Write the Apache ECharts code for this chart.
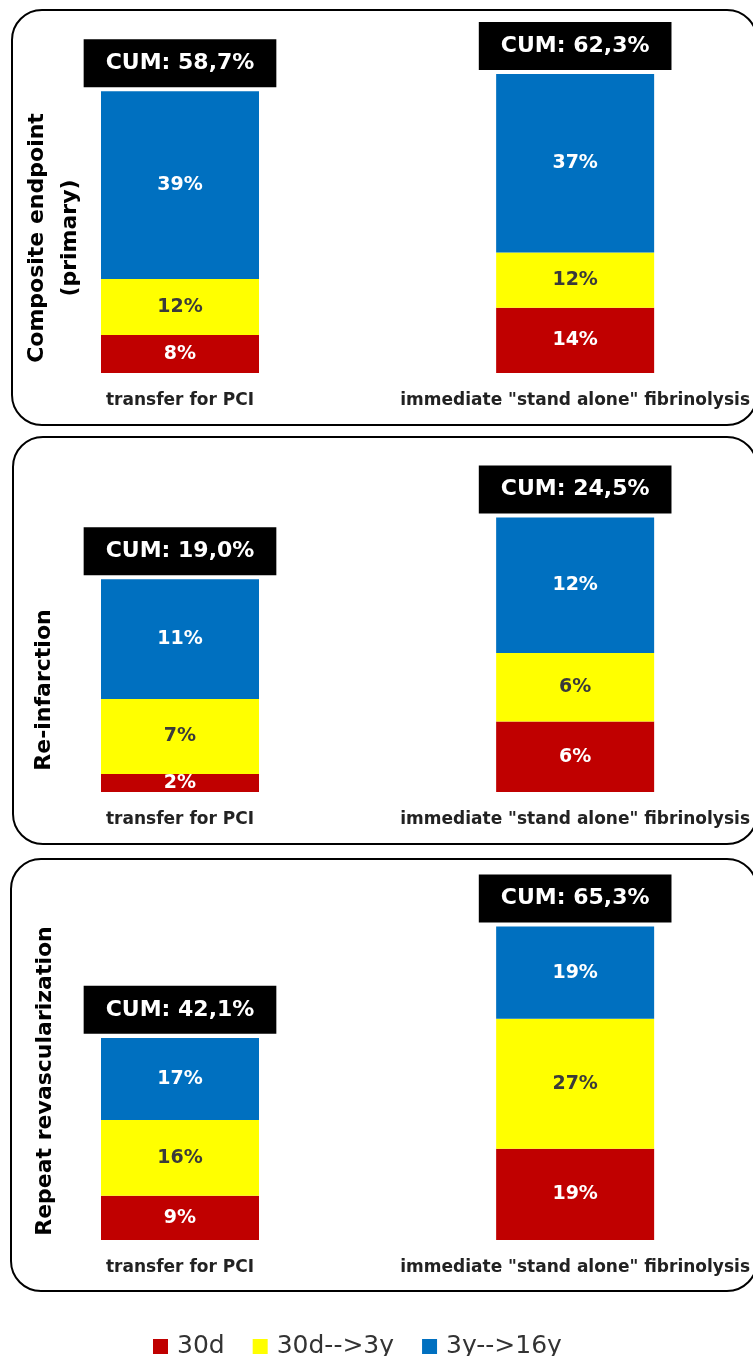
<!DOCTYPE html>
<html>
<head>
<meta charset="utf-8">
<script src="https://cdn.jsdelivr.net/npm/echarts@6/dist/echarts.min.js"></script>
<style>
html,body{margin:0;padding:0;background:#fff;}
#chart{width:753px;height:1356px;}
</style>
</head>
<body>
<div id="chart"></div>
<script>
// ---- data ----
const categories = ['transfer for PCI', 'immediate "stand alone" fibrinolysis'];
const endpointNames = ['Composite endpoint\n(primary)', 'Re-infarction', 'Repeat revascularization'];
const periodNames = ['30d', '30d-->3y', '3y-->16y'];

const composite30d = [7.9, 13.6];
const composite30dTo3y = [11.7, 11.5];
const composite3yTo16y = [39.1, 37.2];
const compositeCum = [58.7, 62.3];

const reinfarction30d = [1.6, 6.3];
const reinfarction30dTo3y = [6.7, 6.1];
const reinfarction3yTo16y = [10.7, 12.1];
const reinfarctionCum = [19.0, 24.5];

const revasc30d = [9.2, 19.0];
const revasc30dTo3y = [15.8, 27.1];
const revasc3yTo16y = [17.1, 19.2];
const revascCum = [42.1, 65.3];

const yMax = [70, 30, 70];

// ---- layout/style ----
const panels = [
  { parts: [composite30d, composite30dTo3y, composite3yTo16y], cum: compositeCum },
  { parts: [reinfarction30d, reinfarction30dTo3y, reinfarction3yTo16y], cum: reinfarctionCum },
  { parts: [revasc30d, revasc30dTo3y, revasc3yTo16y], cum: revascCum }
];
const gridTops = [37, 456, 904];
const colors = ['#C00000', '#FFFF00', '#0070C0'];
const labelColors = ['#ffffff', '#3a3a3a', '#ffffff'];
const FONT = 'DejaVu Sans';

const grids = [], xAxes = [], yAxes = [], series = [];
panels.forEach((p, i) => {
  grids.push({ left: 180, right: 177.5, top: gridTops[i], height: 336 });
  xAxes.push({
    gridIndex: i, type: 'category', data: categories, boundaryGap: false,
    axisLine: { show: false }, axisTick: { show: false }, splitLine: { show: false },
    axisLabel: { interval: 0, margin: 19, fontSize: 17, fontWeight: 'bold', color: '#222', fontFamily: FONT }
  });
  yAxes.push({ gridIndex: i, type: 'value', min: 0, max: yMax[i], show: false, splitLine: { show: false } });
  p.parts.forEach((vals, k) => {
    series.push({
      name: periodNames[k], type: 'bar', stack: 'panel' + i,
      xAxisIndex: i, yAxisIndex: i, barWidth: 158, data: vals,
      itemStyle: { color: colors[k] },
      label: {
        show: true, position: 'inside', fontSize: 19, fontWeight: 'bold',
        fontFamily: FONT, color: labelColors[k],
        formatter: q => Math.round(q.value) + '%'
      }
    });
  });
  series.push({
    name: 'CUM', type: 'scatter', xAxisIndex: i, yAxisIndex: i,
    data: p.cum, symbolSize: 0.1, itemStyle: { color: 'rgba(0,0,0,0)', opacity: 1 }, z: 10,
    label: {
      show: true, position: 'top', distance: 4, opacity: 1,
      formatter: q => 'CUM: ' + q.value.toFixed(1).replace('.', ',') + '%',
      backgroundColor: '#000000', color: '#ffffff', fontSize: 22, fontWeight: 'bold',
      fontFamily: FONT, lineHeight: 22, padding: [13, 22, 13, 22]
    }
  });
});

const panelBoxes = [
  { x: 12, y: 10, w: 745, h: 415 },
  { x: 13, y: 437, w: 744, h: 407 },
  { x: 11, y: 859, w: 746, h: 432 }
];
const titlePos = [[54, 238], [44, 690], [45, 1081]];

const graphics = [];
panelBoxes.forEach(b => {
  graphics.push({
    type: 'rect', shape: { x: b.x, y: b.y, width: b.w, height: b.h, r: 30 },
    style: { fill: 'none', stroke: '#000', lineWidth: 2 }, z: -1, silent: true
  });
});
endpointNames.forEach((t, i) => {
  graphics.push({
    type: 'text', x: titlePos[i][0], y: titlePos[i][1], rotation: Math.PI / 2,
    style: { text: t, fontSize: 22, fontWeight: 'bold', fontFamily: FONT, fill: '#000',
      textAlign: 'center', textVerticalAlign: 'middle', lineHeight: 33 }
  });
});

const chart = echarts.init(document.getElementById('chart'), null, { renderer: 'canvas' });
chart.setOption({
  animation: false,
  backgroundColor: '#fff',
  grid: grids, xAxis: xAxes, yAxis: yAxes, series: series,
  legend: {
    data: periodNames, left: 148, top: 1329, itemWidth: 15, itemHeight: 15, itemGap: 28,
    icon: 'rect', selectedMode: false,
    textStyle: { fontSize: 25, color: '#333', fontFamily: FONT, padding: [0, 0, 0, 4] }
  },
  graphic: graphics
});
</script>
</body>
</html>
